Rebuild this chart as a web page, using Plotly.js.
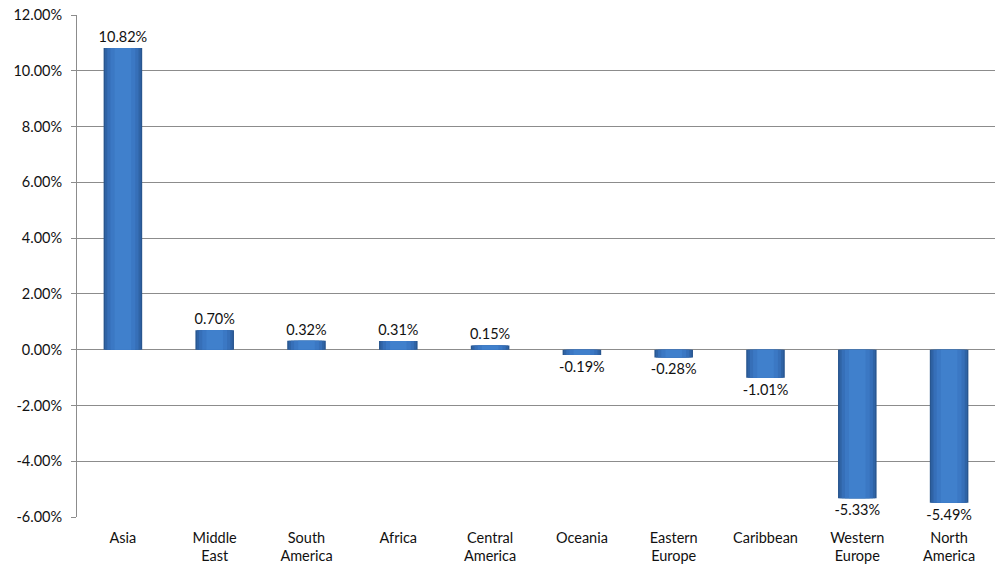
<!DOCTYPE html>
<html>
<head>
<meta charset="utf-8">
<script src="https://cdn.plot.ly/plotly-3.0.1.min.js"></script>
<style>
  html, body { margin: 0; padding: 0; background: #fff; }
  #chart { width: 995px; height: 571px; }
</style>
</head>
<body>
<div id="chart"></div>
<script>
// Regional change, in percent
const regions = ['Asia', 'Middle<br>East', 'South<br>America', 'Africa', 'Central<br>America',
                 'Oceania', 'Eastern<br>Europe', 'Caribbean', 'Western<br>Europe', 'North<br>America'];
const changePct = [10.82, 0.70, 0.32, 0.31, 0.15, -0.19, -0.28, -1.01, -5.33, -5.49];
const yTicks = [-6, -4, -2, 0, 2, 4, 6, 8, 10, 12];

const font = 'Lato, "Open Sans", sans-serif';

// Cylinder-style shading: stacked overlays, dark rim to lighter centre
const shades = [
  { w: 0.42, c: '#28568f' },
  { w: 0.39, c: '#2f63a5' },
  { w: 0.34, c: '#366fb8' },
  { w: 0.27, c: '#3b78c4' },
  { w: 0.18, c: '#4080cc' }
];

const traces = shades.map((s, i) => ({
  type: 'bar',
  x: regions,
  y: changePct,
  width: s.w,
  marker: { color: s.c, line: { width: 0 } },
  hoverinfo: i === 0 ? 'x+y' : 'skip',
  showlegend: false,
  text: i === 0 ? changePct.map(v => v.toFixed(2) + '%') : undefined,
  textposition: i === 0 ? 'outside' : 'none',
  constraintext: 'none',
  textfont: { family: font, size: 14.5, color: '#111' },
  cliponaxis: false
}));

const layout = {
  width: 995,
  height: 571,
  margin: { l: 77, r: 0, t: 15, b: 54 },
  paper_bgcolor: '#fff',
  plot_bgcolor: '#fff',
  barmode: 'overlay',
  font: { family: font, size: 14.5, color: '#111' },
  xaxis: {
    type: 'category',
    showgrid: false,
    showline: false,
    ticks: '',
    ticklabelstandoff: 10,
    tickfont: { family: font, size: 14.5, color: '#111' },
    fixedrange: true
  },
  yaxis: {
    range: [-6, 12],
    tickvals: yTicks,
    ticktext: yTicks.map(v => v.toFixed(2) + '%'),
    showgrid: true,
    gridcolor: '#8c8c8c',
    gridwidth: 1,
    zeroline: true,
    zerolinecolor: '#8c8c8c',
    zerolinewidth: 1,
    showline: true,
    linecolor: '#8c8c8c',
    linewidth: 1,
    ticks: 'outside',
    ticklen: 5,
    tickcolor: '#8c8c8c',
    ticklabelstandoff: 6,
    tickfont: { family: font, size: 14.5, color: '#111' },
    fixedrange: true
  }
};

Plotly.newPlot('chart', traces, layout, { displayModeBar: false, staticPlot: true });
</script>
</body>
</html>
